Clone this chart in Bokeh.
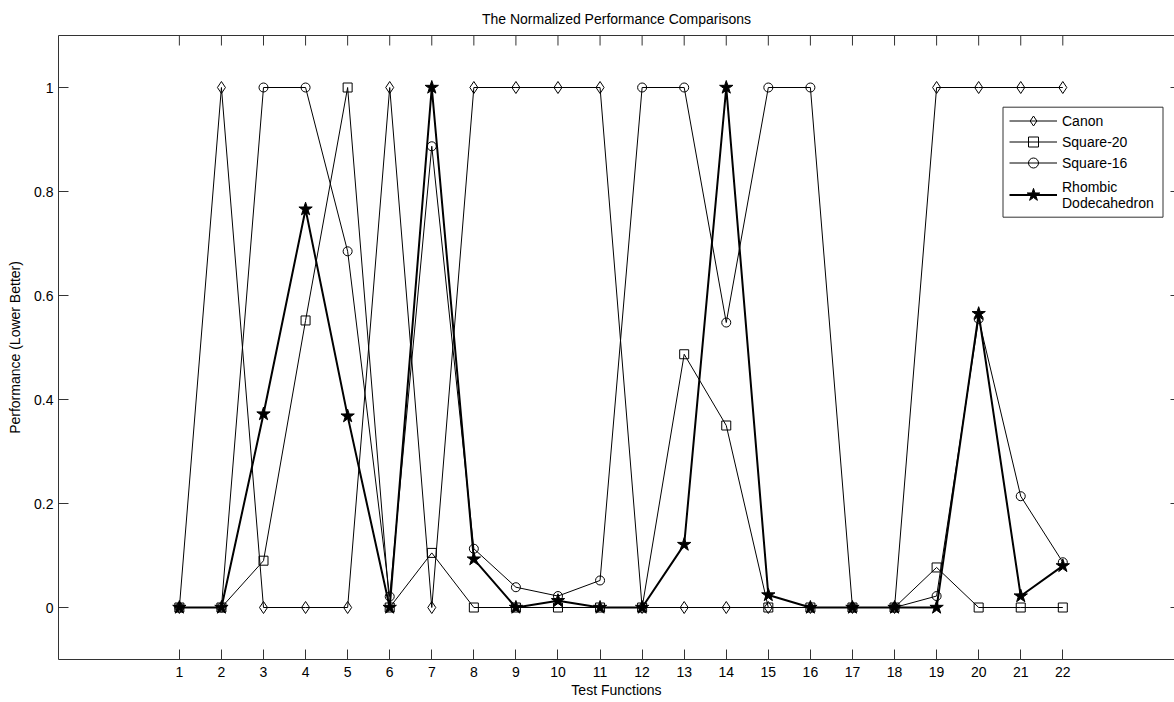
import math
from bokeh.plotting import figure
from bokeh.models import Range1d, FixedTicker, LinearAxis, Legend, LegendItem, BoxAnnotation
from bokeh.embed import file_html
from bokeh.resources import INLINE

tests = [1, 2, 3, 4, 5, 6, 7, 8, 9, 10, 11, 12, 13, 14, 15, 16, 17, 18, 19, 20, 21, 22]
test_labels = ["1", "2", "3", "4", "5", "6", "7", "8", "9", "10", "11",
               "12", "13", "14", "15", "16", "17", "18", "19", "20", "21", "22"]
canon = [0, 1, 0, 0, 0, 1, 0, 1, 1, 1, 1, 0, 0, 0, 0, 0, 0, 0, 1, 1, 1, 1]
square20 = [0, 0, 0.09, 0.552, 1.0, 0, 0.105, 0, 0, 0, 0, 0, 0.487, 0.35,
            0, 0, 0, 0, 0.077, 0, 0, 0]
square16 = [0, 0, 1, 1, 0.685, 0.021, 0.887, 0.113, 0.039, 0.022, 0.052, 1, 1,
            0.548, 1, 1, 0, 0, 0.022, 0.555, 0.214, 0.087]
rhombic = [0, 0, 0.372, 0.766, 0.368, 0, 1, 0.093, 0, 0.013, 0, 0, 0.121, 1,
           0.024, 0, 0, 0, 0, 0.565, 0.022, 0.08]
y_ticks = [0, 0.2, 0.4, 0.6, 0.8, 1]
y_tick_labels = ["0", "0.2", "0.4", "0.6", "0.8", "1"]

X_START, X_END = -1.873, 24.655
Y_START, Y_END = -0.1, 1.1

FONT = "Liberation Sans"
AX = "#333333"

p = figure(width=1174, height=702, output_backend="svg", toolbar_location=None,
           x_range=Range1d(X_START, X_END), y_range=Range1d(Y_START, Y_END),
           title="The Normalized Performance Comparisons",
           min_border_left=58, min_border_right=0, min_border_top=34,
           min_border_bottom=43)
p.grid.visible = False
p.outline_line_color = None
p.background_fill_color = "white"
p.border_fill_color = "white"

p.title.text_font = FONT
p.title.text_font_size = "14px"
p.title.text_font_style = "normal"
p.title.text_color = "#000000"
p.title.align = "center"
p.title.standoff = 17


def style(ax, ticks, standoff=5):
    ax.ticker = FixedTicker(ticks=ticks)
    ax.major_tick_in = 10
    ax.major_tick_out = 0
    ax.minor_tick_line_color = None
    ax.axis_line_color = AX
    ax.major_tick_line_color = AX
    ax.major_label_text_font = FONT
    ax.major_label_text_color = "#000000"
    ax.major_label_text_font_size = "14px"
    ax.major_label_standoff = standoff
    ax.axis_label_text_font = FONT
    ax.axis_label_text_font_size = "14px"
    ax.axis_label_text_font_style = "normal"
    ax.axis_label_text_color = "#000000"


style(p.xaxis[0], tests, standoff=7)
style(p.yaxis[0], y_ticks, standoff=5)
p.xaxis[0].major_label_overrides = {t: l for t, l in zip(tests, test_labels)}
p.yaxis[0].major_label_overrides = {t: l for t, l in zip(y_ticks, y_tick_labels)}
p.xaxis[0].axis_label = "Test Functions"
p.xaxis[0].axis_label_standoff = 2
p.yaxis[0].axis_label = "Performance (Lower Better)"
p.yaxis[0].axis_label_standoff = 8

# top border line (its ticks are drawn below as short rays)
top = LinearAxis(ticker=FixedTicker(ticks=[]))
top.axis_line_color = AX
top.major_tick_line_color = None
top.minor_tick_line_color = None
top.major_label_standoff = 0
p.add_layout(top, "above")

# inward tick marks on the top and right borders
p.ray(x=tests, y=[Y_END] * len(tests), length=10, angle=-math.pi / 2,
      length_units="screen", line_color=AX, line_width=1)
p.ray(x=[X_END] * len(y_ticks), y=y_ticks, length=4, angle=math.pi,
      length_units="screen", line_color=AX, line_width=1)

c_line = p.line(tests, canon, line_color="black", line_width=1)
c_mark = p.scatter(tests, canon, marker="diamond", size=12, fill_color=None,
                   line_color="black", line_width=1)
s20_line = p.line(tests, square20, line_color="black", line_width=1)
s20_mark = p.scatter(tests, square20, marker="square", size=9, fill_color=None,
                     line_color="black", line_width=1)
s16_line = p.line(tests, square16, line_color="black", line_width=1)
s16_mark = p.scatter(tests, square16, marker="circle", size=9, fill_color=None,
                     line_color="black", line_width=1)
r_line = p.line(tests, rhombic, line_color="black", line_width=2)
r_mark = p.scatter(tests, rhombic, marker="star", size=14, fill_color="black",
                   line_color="black", line_width=1)

# legend frame (screen pixels, relative to the plot frame's bottom-left)
frame_box = BoxAnnotation(left=944.5, right=1104.5, bottom=442.3, top=552.3,
                          left_units="screen", right_units="screen",
                          top_units="screen", bottom_units="screen",
                          fill_color="white", fill_alpha=1,
                          line_color=AX, line_width=1, line_alpha=1)
p.add_layout(frame_box)


def add_legend(label, renderers, gh, y):
    lg = Legend(items=[LegendItem(label=label, renderers=renderers)],
                location=(951, y))
    lg.label_text_font = FONT
    lg.label_text_font_size = "14px"
    lg.label_text_color = "#000000"
    lg.glyph_width = 48
    lg.glyph_height = gh
    lg.label_height = 14
    lg.label_standoff = 5
    lg.spacing = 0
    lg.padding = 0
    lg.margin = 0
    lg.border_line_color = None
    lg.background_fill_alpha = 0
    p.add_layout(lg, "center")


add_legend("Canon", [c_line, c_mark], 25, 526)
add_legend("Square-20", [s20_line, s20_mark], 25, 505)
add_legend("Square-16", [s16_line, s16_mark], 25, 484)
add_legend("Rhombic\nDodecahedron", [r_line, r_mark], 33, 448)

open("out.html", "w").write(file_html(p, INLINE))
